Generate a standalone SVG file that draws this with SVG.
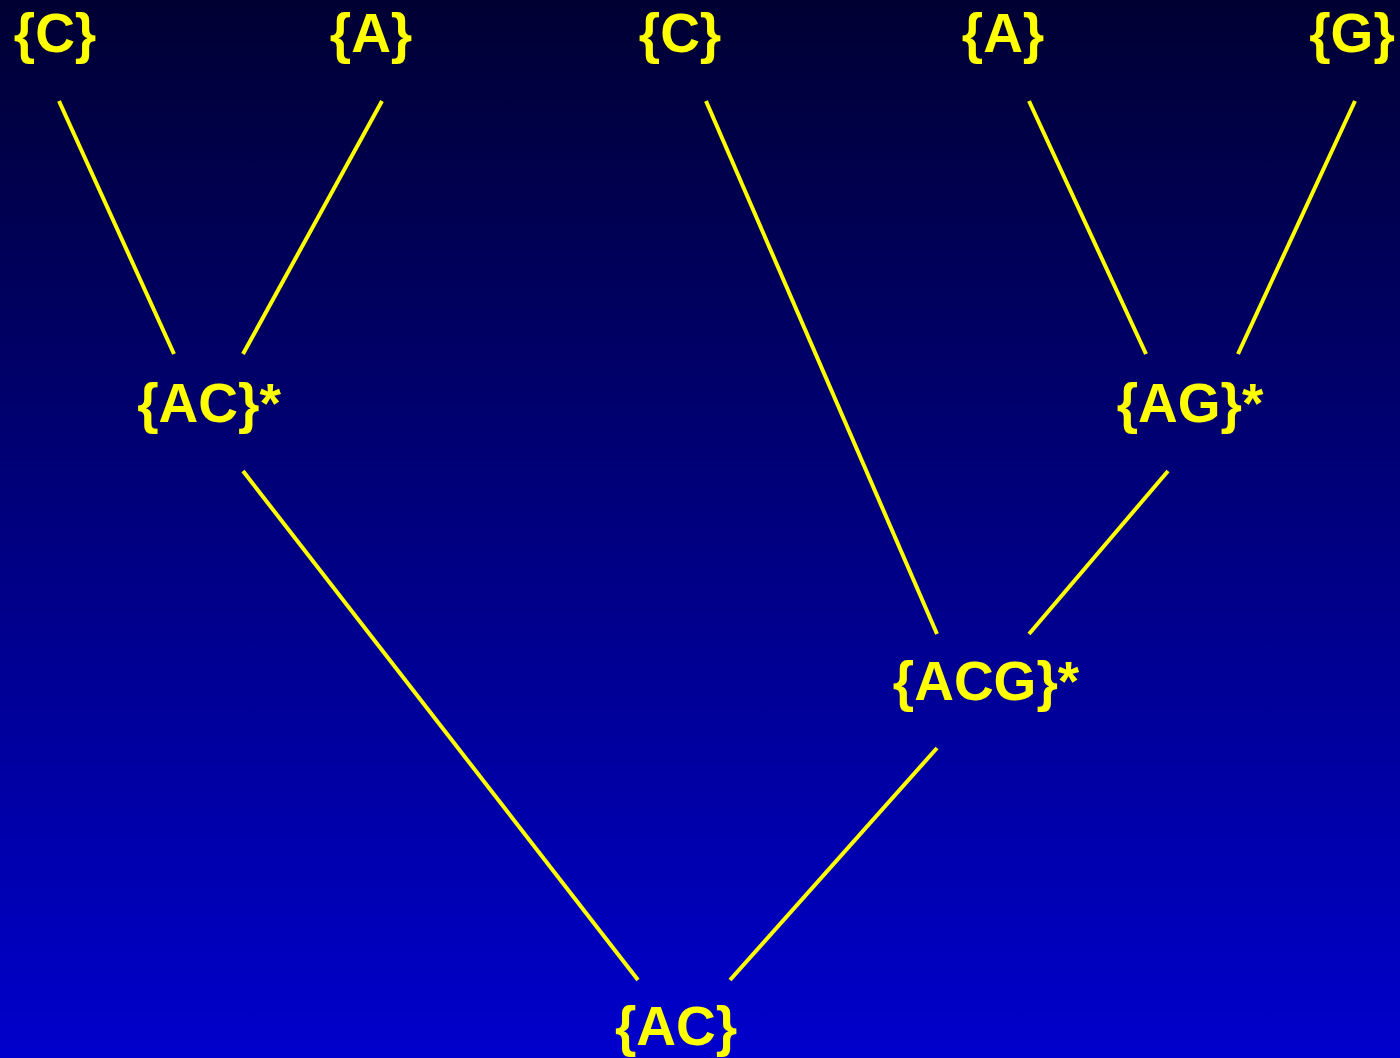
<svg xmlns="http://www.w3.org/2000/svg" width="1400" height="1058" viewBox="0 0 1400 1058">
<defs>
<linearGradient id="bg" x1="0" y1="0" x2="0" y2="1">
<stop offset="0" stop-color="#000033"/>
<stop offset="1" stop-color="#0000CC"/>
</linearGradient>
</defs>
<style>
.lbl{font-family:"Liberation Sans",Arial,sans-serif;font-weight:bold;font-size:55px;fill:#FFFF00;text-anchor:middle}
.edge{stroke:#FFFF00;stroke-width:4;fill:none}
</style>
<rect x="0" y="0" width="1400" height="1058" fill="url(#bg)"/>
<g id="connectors">
<line class="edge" x1="59" y1="101" x2="174" y2="354"/>
<line class="edge" x1="382" y1="101" x2="243" y2="354"/>
<line class="edge" x1="706" y1="101" x2="937" y2="634"/>
<line class="edge" x1="1029" y1="101" x2="1146" y2="354"/>
<line class="edge" x1="1355" y1="101" x2="1238" y2="354"/>
<line class="edge" x1="243" y1="471" x2="638" y2="980"/>
<line class="edge" x1="1168" y1="471" x2="1029" y2="634"/>
<line class="edge" x1="937" y1="748" x2="730" y2="980"/>
</g>
<g id="leaf1"><text class="lbl" x="55" y="52">{C}</text></g>
<g id="leaf2"><text class="lbl" x="371" y="52">{A}</text></g>
<g id="leaf3"><text class="lbl" x="680" y="52">{C}</text></g>
<g id="leaf4"><text class="lbl" x="1003" y="52">{A}</text></g>
<g id="leaf5"><text class="lbl" x="1352" y="52">{G}</text></g>
<g id="nodeAC1"><text class="lbl" x="209" y="422">{AC}*</text></g>
<g id="nodeAG"><text class="lbl" x="1190" y="422">{AG}*</text></g>
<g id="nodeACG"><text class="lbl" x="986" y="700">{ACG}*</text></g>
<g id="root"><text class="lbl" x="676" y="1045">{AC}</text></g>
</svg>
